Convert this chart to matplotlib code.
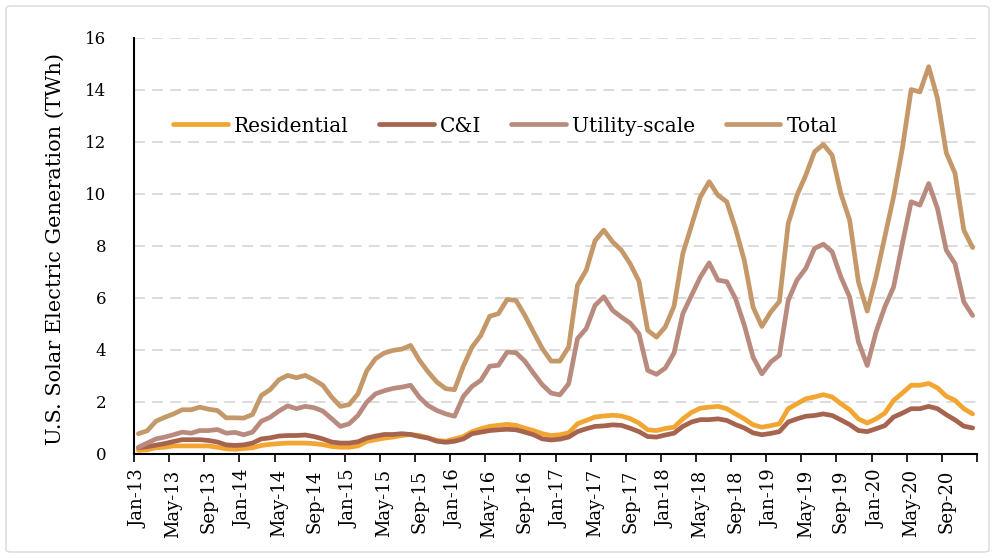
import numpy as np
import matplotlib
matplotlib.use("Agg")
import matplotlib.pyplot as plt
from matplotlib.patches import FancyBboxPatch

months = ["Jan", "Feb", "Mar", "Apr", "May", "Jun", "Jul", "Aug", "Sep", "Oct", "Nov", "Dec"]
categories = [f"{m}-{y:02d}" for y in range(13, 21) for m in months]

residential = [0.14, 0.16, 0.24, 0.26, 0.31, 0.31, 0.31, 0.31, 0.31, 0.26, 0.20, 0.18,
               0.21, 0.24, 0.33, 0.37, 0.40, 0.42, 0.42, 0.42, 0.40, 0.36, 0.29, 0.26,
               0.26, 0.31, 0.48, 0.55, 0.61, 0.65, 0.71, 0.75, 0.71, 0.62, 0.52, 0.49,
               0.58, 0.67, 0.86, 0.97, 1.06, 1.10, 1.14, 1.10, 0.99, 0.90, 0.78, 0.71,
               0.74, 0.81, 1.16, 1.29, 1.42, 1.46, 1.49, 1.46, 1.36, 1.19, 0.93, 0.90,
               0.98, 1.03, 1.35, 1.60, 1.76, 1.80, 1.83, 1.74, 1.54, 1.35, 1.12, 1.03,
               1.09, 1.16, 1.74, 1.93, 2.12, 2.19, 2.28, 2.19, 1.93, 1.70, 1.35, 1.19,
               1.35, 1.57, 2.06, 2.34, 2.64, 2.64, 2.71, 2.54, 2.22, 2.06, 1.74, 1.54]

c_and_i = [0.24, 0.28, 0.34, 0.40, 0.48, 0.55, 0.55, 0.55, 0.52, 0.46, 0.35, 0.33,
           0.35, 0.42, 0.58, 0.62, 0.69, 0.71, 0.71, 0.73, 0.67, 0.58, 0.46, 0.42,
           0.42, 0.47, 0.61, 0.69, 0.75, 0.75, 0.78, 0.75, 0.67, 0.61, 0.49, 0.45,
           0.49, 0.58, 0.78, 0.84, 0.90, 0.93, 0.95, 0.93, 0.84, 0.74, 0.58, 0.54,
           0.57, 0.65, 0.86, 0.97, 1.06, 1.08, 1.12, 1.10, 0.99, 0.86, 0.67, 0.65,
           0.73, 0.80, 1.06, 1.23, 1.32, 1.32, 1.35, 1.29, 1.13, 1.00, 0.81, 0.74,
           0.79, 0.86, 1.23, 1.35, 1.45, 1.48, 1.54, 1.48, 1.31, 1.13, 0.90, 0.86,
           0.97, 1.09, 1.42, 1.57, 1.74, 1.74, 1.83, 1.74, 1.51, 1.31, 1.07, 1.00]

utility = [0.26, 0.42, 0.58, 0.65, 0.74, 0.84, 0.80, 0.90, 0.90, 0.94, 0.80, 0.83,
           0.74, 0.84, 1.26, 1.41, 1.65, 1.85, 1.74, 1.83, 1.78, 1.65, 1.36, 1.06,
           1.16, 1.48, 1.99, 2.31, 2.43, 2.52, 2.57, 2.64, 2.18, 1.86, 1.67, 1.54,
           1.45, 2.21, 2.60, 2.83, 3.37, 3.41, 3.92, 3.89, 3.57, 3.10, 2.66, 2.34,
           2.27, 2.70, 4.43, 4.82, 5.71, 6.04, 5.52, 5.26, 5.03, 4.62, 3.21, 3.06,
           3.30, 3.88, 5.39, 6.10, 6.80, 7.34, 6.68, 6.62, 5.97, 4.95, 3.72, 3.08,
           3.53, 3.79, 5.90, 6.68, 7.13, 7.90, 8.06, 7.77, 6.80, 6.03, 4.30, 3.40,
           4.68, 5.65, 6.41, 8.08, 9.69, 9.56, 10.39, 9.43, 7.83, 7.31, 5.84, 5.32]

total = [0.78, 0.89, 1.26, 1.41, 1.54, 1.70, 1.70, 1.80, 1.72, 1.67, 1.39, 1.39,
         1.38, 1.52, 2.25, 2.47, 2.85, 3.02, 2.93, 3.02, 2.85, 2.64, 2.19, 1.83,
         1.90, 2.31, 3.19, 3.66, 3.88, 3.98, 4.03, 4.17, 3.60, 3.15, 2.76, 2.51,
         2.47, 3.37, 4.11, 4.56, 5.29, 5.39, 5.94, 5.90, 5.33, 4.68, 4.05, 3.57,
         3.57, 4.11, 6.48, 7.06, 8.19, 8.60, 8.15, 7.83, 7.31, 6.64, 4.75, 4.49,
         4.88, 5.68, 7.70, 8.79, 9.88, 10.46, 9.94, 9.69, 8.66, 7.44, 5.64, 4.90,
         5.45, 5.86, 8.85, 9.94, 10.71, 11.61, 11.89, 11.48, 10.00, 8.98, 6.61, 5.49,
         6.80, 8.34, 9.88, 11.74, 14.00, 13.91, 14.88, 13.66, 11.57, 10.78, 8.60, 7.93]

series_names = ["Residential", "C&I", "Utility-scale", "Total"]
series_colors = ["#F2A531", "#A6644E", "#B98B7E", "#C49868"]
y_ticks = [0, 2, 4, 6, 8, 10, 12, 14, 16]
y_label = "U.S. Solar Electric Generation (TWh)"

W, H = 995, 558
fig = plt.figure(figsize=(W / 100, H / 100), dpi=100)
ax = fig.add_axes([134 / W, 1 - 454 / H, (977 - 134) / W, (454 - 37.5) / H])

fig.patches.append(FancyBboxPatch((6 / W, 6 / H), (983) / W, (546) / H,
                                  boxstyle="round,pad=0,rounding_size=0.005",
                                  transform=fig.transFigure, fill=False,
                                  edgecolor="#D9D9D9", linewidth=1.0))

x = np.arange(len(categories))
for vals, name, col in zip([residential, c_and_i, utility, total], series_names, series_colors):
    ax.plot(x, vals, color=col, lw=3.4, label=name,
            solid_capstyle="round", solid_joinstyle="round", zorder=3)

serif = "DejaVu Serif"
ax.set_xlim(-0.5, len(categories) - 0.5)
ax.set_ylim(0, 16)
ax.set_yticks(y_ticks)
ax.set_yticklabels([str(v) for v in y_ticks], fontfamily=serif, fontsize=12)
ax.tick_params(axis="y", length=0, pad=20)

ax.set_xticks(np.arange(-0.5, len(categories), 4))
ax.set_xticklabels([])
ax.tick_params(axis="x", which="major", length=6, width=1.2, direction="out", color="black")
ax.set_xticks(x[::4], minor=True)
ax.set_xticklabels(categories[::4], minor=True, rotation=90, fontfamily=serif, fontsize=13)
ax.tick_params(axis="x", which="minor", length=0, pad=11)

for v in y_ticks[1:]:
    ax.axhline(v, color="#D9D9D9", lw=1.3, ls=(0, (6, 4)), zorder=1)

for s in ["top", "right"]:
    ax.spines[s].set_visible(False)
for s in ["left", "bottom"]:
    ax.spines[s].set_linewidth(1.5)
    ax.spines[s].set_color("black")

fig.text(55 / W, 1 - 249 / H, y_label, rotation=90, ha="center", va="center",
         fontfamily=serif, fontsize=15)

leg = fig.legend(loc="center", bbox_to_anchor=(505 / W, 1 - 126 / H), ncol=4, frameon=False,
                 prop={"family": serif, "size": 14.5}, handlelength=2.73, handletextpad=0.3,
                 columnspacing=1.5)

fig.savefig("out.png", dpi=100)
